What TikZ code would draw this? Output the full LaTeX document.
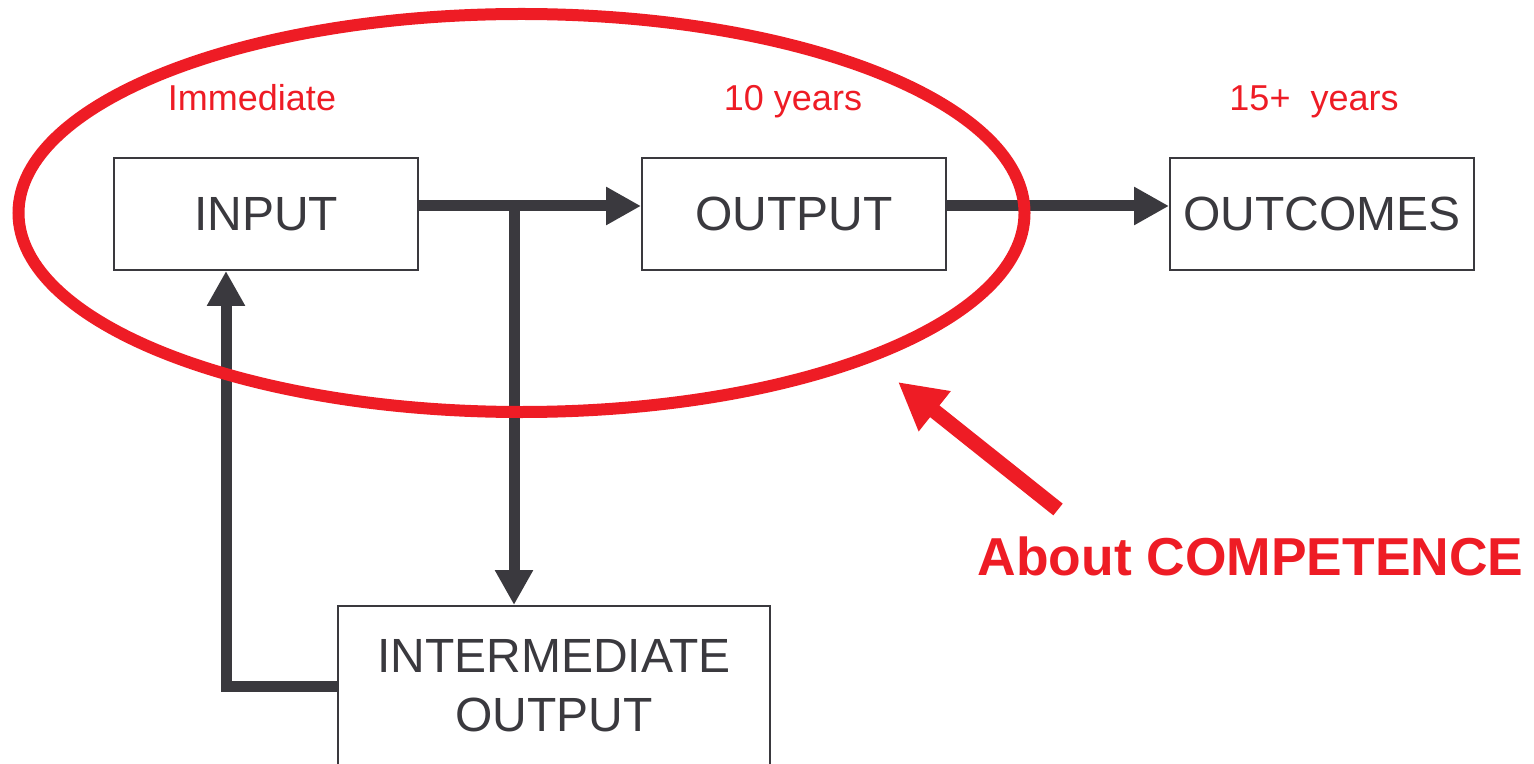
\documentclass[tikz,border=0pt]{standalone}
\usepackage{fontspec}
\setmainfont{Liberation Sans}
\usetikzlibrary{arrows.meta}
\definecolor{ink}{HTML}{3A393E}
\definecolor{alert}{HTML}{EE1C25}
\begin{document}
\begin{tikzpicture}[x=0.5pt,y=-0.5pt,
  stage/.style={draw=ink, line width=1pt, minimum width=152pt, minimum height=56pt,
    inner sep=0pt, text=ink, font=\fontsize{24}{29.5}\selectfont},
  flow/.style={draw=ink, line width=5.5pt, -{Triangle[length=17.5pt,width=18pt]}},
  horizon/.style={text=alert, font=\fontsize{18}{22}\selectfont, anchor=base},
]
\useasboundingbox (0,0) rectangle (1534,764);

% stages of the chain
\node[stage] (in)  at (266,214)  {INPUT};
\node[stage] (out) at (794,214)  {OUTPUT};
\node[stage] (res) at (1322,214) {OUTCOMES};
\node[stage, minimum width=216pt, minimum height=80pt, align=center] (mid) at (554,686)
  {INTERMEDIATE\\OUTPUT};

% time horizons
\node[horizon] (t0) at (252,111)  {Immediate};
\node[horizon] (t1) at (793,111)  {10 years};
\node[horizon] (t2) at (1314,111) {15+~ years};

% flows between stages
\coordinate (split) at (514,206);
\coordinate (turn)  at (226,686);
\draw[flow] ([yshift=4pt]in.east) -- ([yshift=4pt]out.west);
\draw[flow] ([yshift=4pt]out.east) -- ([yshift=4pt]res.west);
\draw[flow] (split) -- (split |- mid.north);
\draw[flow] (mid.west) -- (turn) -- (turn |- in.south);

% competence region
\draw[alert, line width=6pt] (521.5,213) ellipse [x radius=251.5pt, y radius=99.5pt];

% pointer and caption
\node[text=alert, font=\fontsize{26.7}{32}\selectfont\bfseries, anchor=base] (note)
  at (1250.5,575) {About COMPETENCE};
\coordinate (tail) at (1058,509.5);
\coordinate (tip)  at (898,382);
\draw[alert, line width=7.5pt, -{Triangle[length=23.5pt,width=24pt]}] (tail) -- (tip);
\end{tikzpicture}
\end{document}
